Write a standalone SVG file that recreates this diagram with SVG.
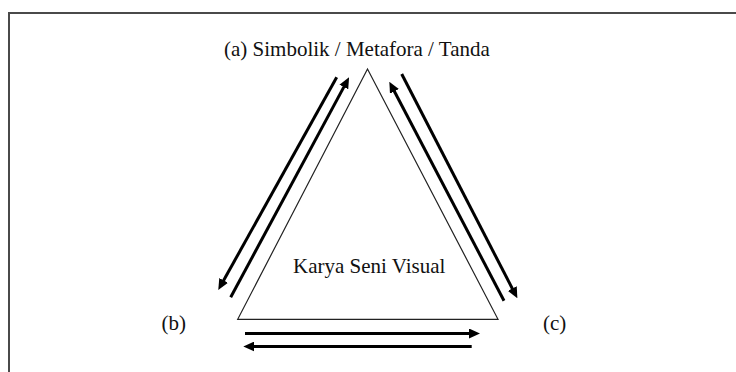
<svg xmlns="http://www.w3.org/2000/svg" width="736" height="372" viewBox="0 0 736 372">
<style>
  text { font-family: "Liberation Serif", "Times New Roman", serif; font-size: 21px; fill: #111; }
  .arrow { stroke: #000; stroke-width: 3; fill: none; marker-end: url(#ah); }
  .frame { stroke: #4a4a4a; stroke-width: 2; fill: none; }
  .tri { stroke: #222; stroke-width: 1.2; fill: #fff; }
</style>
<defs>
  <marker id="ah" viewBox="0 0 11 10" refX="5" refY="5" markerWidth="11" markerHeight="10" markerUnits="userSpaceOnUse" orient="auto">
    <path d="M0,0 L11,5 L0,10 z" fill="#000"/>
  </marker>
</defs>
<rect width="736" height="372" fill="#fff"/>
<g id="frame">
  <path class="frame" d="M9,372 L9,13 L736,13"/>
</g>
<g id="triangle">
  <polygon class="tri" points="367.5,69 237.7,319.3 498,319.3"/>
  <text id="karya" x="293" y="273">Karya Seni Visual</text>
</g>
<g id="node-a">
  <text x="224" y="56">(a) Simbolik / Metafora / Tanda</text>
</g>
<g id="node-b">
  <text x="161.5" y="330">(b)</text>
</g>
<g id="node-c">
  <text x="543" y="330">(c)</text>
</g>
<g id="connectors">
  <line class="arrow" x1="336.7" y1="77.3" x2="221.2" y2="284.8"/>
  <line class="arrow" x1="230.7" y1="297.3" x2="346.2" y2="82.6"/>
  <line class="arrow" x1="504" y1="300.7" x2="392.1" y2="87.0"/>
  <line class="arrow" x1="401.7" y1="74" x2="514.6" y2="293.0"/>
  <line class="arrow" x1="245" y1="333.5" x2="474" y2="333.5"/>
  <line class="arrow" x1="471.7" y1="346.5" x2="249.3" y2="346.5"/>
</g>
</svg>
